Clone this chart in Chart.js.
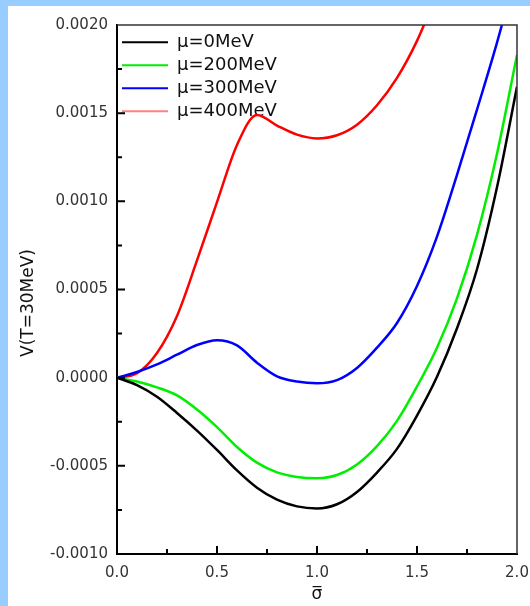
<!DOCTYPE html>
<html>
<head>
<meta charset="utf-8">
<title>V(T=30MeV)</title>
<script src="https://cdn.jsdelivr.net/npm/chart.js@4.4.1/dist/chart.umd.min.js"></script>
<style>
  html, body { margin: 0; padding: 0; background: #fff; }
  #frame {
    position: absolute; left: 0; top: 0;
    width: 522px; height: 600px;
    border-left: 8px solid #99CCFF;
    border-top: 6px solid #99CCFF;
    background: #fff;
  }
  canvas { display: block; }
</style>
</head>
<body>
<div id="frame"><canvas id="potentialChart" width="522" height="600"></canvas></div>
<script>
// ---------------------------------------------
// Effective potential V(sigma) at T = 30 MeV
// ---------------------------------------------

const sigma = [0.0, 0.1, 0.2, 0.3, 0.4, 0.5, 0.6, 0.7, 0.8, 0.9, 1.0,
               1.1, 1.2, 1.3, 1.4, 1.5, 1.6, 1.7, 1.8, 1.9, 2.0];

const vMu0 = [0, -0.000042, -0.000108, -0.000200, -0.000300, -0.000410, -0.000526,
              -0.000624, -0.000692, -0.000730, -0.000742, -0.000718, -0.000648,
              -0.000538, -0.000404, -0.000215, 0.000005, 0.000280, 0.000615,
              0.001080, 0.001650];

const vMu200 = [0, -0.000022, -0.000055, -0.000100, -0.000180, -0.000280, -0.000393,
                -0.000482, -0.000537, -0.000563, -0.000570, -0.000552, -0.000492,
                -0.000388, -0.000245, -0.000050, 0.000170, 0.000450, 0.000810,
                0.001270, 0.001830];

const vMu300 = [0, 0.000032, 0.000075, 0.000130, 0.000185, 0.000212, 0.000183,
                0.000085, 0.000008, -0.000022, -0.000032, -0.000014, 0.000055,
                0.000170, 0.000310, 0.000520, 0.000800, 0.001150, 0.001520,
                0.001900, 0.002320];

const vMu400 = [0, 0.000025, 0.000140, 0.000350, 0.000665, 0.000995, 0.001320,
                0.001490, 0.001430, 0.001378, 0.001357, 0.001375, 0.001435,
                0.001545, 0.001700, 0.001910, 0.002180, null, null, null, null];

const seriesLabels = ['\u03bc=0MeV', '\u03bc=200MeV', '\u03bc=300MeV', '\u03bc=400MeV'];
const seriesValues = [vMu0, vMu200, vMu300, vMu400];
const lineColors = ['#000000', '#00EE00', '#0000FF', '#FF0000'];
const legendColors = ['#000000', '#00EE00', '#0000FF', '#FF8080'];

const FONT = '"DejaVu Sans", "Liberation Sans", sans-serif';

// Frame on top/right plus inward major/minor ticks
const frameTicks = {
    id: 'frameTicks',
    afterDraw(chart) {
        const { ctx, chartArea: a, scales: { x, y } } = chart;
        ctx.save();
        ctx.strokeStyle = '#333';
        ctx.lineWidth = 1.5;
        ctx.beginPath();
        ctx.moveTo(a.left, a.top);
        ctx.lineTo(a.right, a.top);
        ctx.lineTo(a.right, a.bottom);
        ctx.stroke();

        ctx.strokeStyle = '#000';
        ctx.lineWidth = 2;
        ctx.beginPath();
        for (let i = 1; i < 12; i++) {
            const py = y.getPixelForValue(y.min + i * 0.00025);
            const len = i % 2 === 0 ? 8 : 5;
            ctx.moveTo(a.left, py);
            ctx.lineTo(a.left + len, py);
        }
        for (let i = 1; i < 8; i++) {
            const px = x.getPixelForValue(x.min + i * 0.25);
            const len = i % 2 === 0 ? 8 : 5;
            ctx.moveTo(px, a.bottom);
            ctx.lineTo(px, a.bottom - len);
        }
        ctx.stroke();
        ctx.restore();
    }
};

const datasets = seriesLabels.map((label, i) => ({
    label: label,
    data: sigma.map((s, k) => ({ x: s, y: seriesValues[i][k] })),
    borderColor: lineColors[i],
    backgroundColor: lineColors[i],
    borderWidth: 2.5,
    pointRadius: 0,
    cubicInterpolationMode: 'monotone',
    clip: 0
}));

new Chart(document.getElementById('potentialChart'), {
    type: 'line',
    data: { datasets: datasets },
    plugins: [frameTicks],
    options: {
        responsive: false,
        animation: false,
        events: [],
        layout: { padding: { top: 19, right: 13, left: 0, bottom: 0 } },
        plugins: {
            tooltip: { enabled: false },
            legend: {
                position: 'chartArea',
                align: 'start',
                // empty title only reserves the gap above the first entry
                title: { display: true, text: '', padding: { top: 21, bottom: 0 }, font: { size: 1 } },
                labels: {
                    usePointStyle: true,
                    pointStyle: 'line',
                    pointStyleWidth: 46,
                    padding: 5,
                    color: '#111',
                    font: { family: FONT, size: 18 },
                    generateLabels(chart) {
                        const items = Chart.defaults.plugins.legend.labels.generateLabels(chart);
                        items.forEach((item, i) => {
                            item.strokeStyle = legendColors[i];
                            item.lineWidth = 2;
                        });
                        return items;
                    }
                }
            }
        },
        scales: {
            x: {
                type: 'linear',
                min: 0,
                max: 2,
                afterFit(scale) {
                    scale.height = 52;
                    scale.paddingLeft = 0;
                    scale.paddingRight = 0;
                },
                grid: { display: false, drawTicks: false },
                border: { color: '#000', width: 2 },
                ticks: {
                    stepSize: 0.5,
                    padding: 10,
                    color: '#333',
                    font: { family: FONT, size: 15 },
                    callback: (v) => Number(v).toFixed(1)
                },
                title: {
                    display: true,
                    text: '\u03c3\u0305',
                    color: '#111',
                    font: { family: FONT, size: 17 },
                    padding: { top: 0, bottom: 1 }
                }
            },
            y: {
                min: -0.001,
                max: 0.002,
                afterFit(scale) { scale.width = 109; },
                grid: { display: false, drawTicks: false },
                border: { color: '#000', width: 2 },
                ticks: {
                    stepSize: 0.0005,
                    padding: 9,
                    color: '#333',
                    font: { family: FONT, size: 15 },
                    callback: (v) => (Math.abs(v) < 1e-9 ? 0 : v).toFixed(4)
                },
                title: {
                    display: true,
                    text: 'V(T=30MeV)     ',
                    color: '#111',
                    font: { family: FONT, size: 17 },
                    padding: { top: 10, bottom: 0 }
                }
            }
        }
    }
});
</script>
</body>
</html>
